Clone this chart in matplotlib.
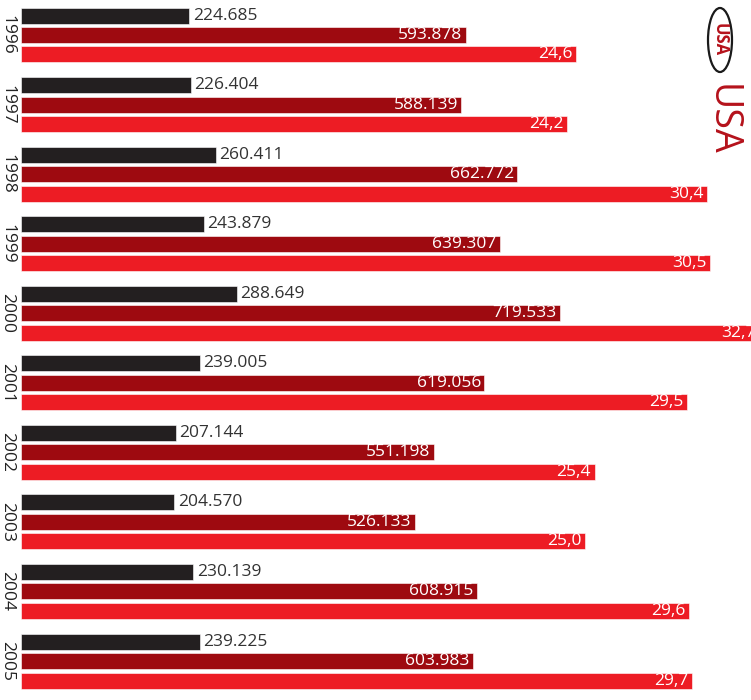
import matplotlib
matplotlib.use('Agg')
import matplotlib.pyplot as plt
from matplotlib.patches import Ellipse
import numpy as np

years = ['1996', '1997', '1998', '1999', '2000', '2001', '2002', '2003', '2004', '2005']
black_vals = [224.685, 226.404, 260.411, 243.879, 288.649, 239.005, 207.144, 204.570, 230.139, 239.225]
dark_vals = [593.878, 588.139, 662.772, 639.307, 719.533, 619.056, 551.198, 526.133, 608.915, 603.983]
red_vals = [24.6, 24.2, 30.4, 30.5, 32.7, 29.5, 25.4, 25.0, 29.6, 29.7]

BLACK = '#231f20'
DARK = '#9e0a10'
RED = '#ed1c24'
FONT = 'Open Sans'

W, H = 751, 700
fig = plt.figure(figsize=(W / 100, H / 100), dpi=100)
ax = fig.add_axes([21 / W, 0, 1 - 21 / W, 1])
ax2 = ax.twiny()

y = np.arange(len(years))
step, h = 0.28, 0.23

ax.barh(y - step, black_vals, height=h, color=BLACK, edgecolor='white', linewidth=0.4)
ax.barh(y, dark_vals, height=h, color=DARK, edgecolor='white', linewidth=0.4)
ax2.barh(y + step, red_vals, height=h, color=RED, edgecolor='white', linewidth=0.4)

ax.set_xlim(0, 975)
ax2.set_xlim(0, 32.33)
ax.set_ylim(9.56, -0.503)

for i in y:
    ax.annotate(f'{black_vals[i]:.3f}', (black_vals[i], i - step), xytext=(2.5, 0),
                textcoords='offset points', va='center', ha='left',
                fontsize=12.5, color='#333333', family=FONT, annotation_clip=False)
    ax.annotate(f'{dark_vals[i]:.3f}', (dark_vals[i], i), xytext=(-2.5, 0),
                textcoords='offset points', va='center', ha='right',
                fontsize=12.5, color='white', family=FONT, annotation_clip=False)
    ax2.annotate(f'{red_vals[i]:.1f}'.replace('.', ','), (red_vals[i], i + step), xytext=(-2.5, 0),
                 textcoords='offset points', va='center', ha='right',
                 fontsize=12.5, color='white', family=FONT, annotation_clip=False)
    # year label, reading top to bottom
    fig.text(7 / W, 1 - (35 + 69.56 * i) / H, years[i], rotation=-90, ha='center', va='center',
             fontsize=12.5, color='#222222', family=FONT)

for a in (ax, ax2):
    a.axis('off')

# logo in the top right corner
fig.patches.append(Ellipse((720 / W, 1 - 40 / H), 24 / W, 64 / H, transform=fig.transFigure,
                           fill=False, edgecolor='#1a1a1a', linewidth=1.6))
fig.text(720 / W, 1 - 40 / H, 'USA', rotation=-90, ha='center', va='center',
         fontsize=12, fontweight='bold', color='#b5121b', family=FONT)
fig.text(722 / W, 1 - 120 / H, 'USA', rotation=-90, ha='center', va='center',
         fontsize=27, color='#b5121b', family=FONT)

fig.savefig('out.png', dpi=100)
